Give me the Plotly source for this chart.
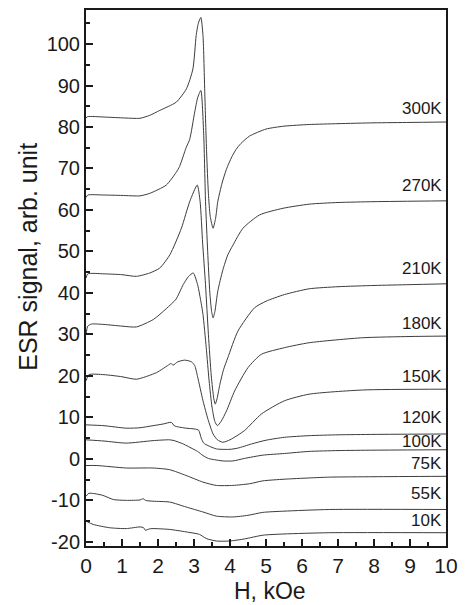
import plotly.graph_objects as go

# ---------------- data ----------------
temps = ["300K", "270K", "210K", "180K", "150K", "120K", "100K", "75K", "55K", "10K"]

H_300K = [0, 0.05, 0.5, 1.0, 1.5, 1.77, 2.05, 2.3, 2.51, 2.79, 2.97, 3.06, 3.12, 3.19, 3.25, 3.30, 3.35, 3.40, 3.45, 3.53, 3.60, 3.66, 3.78, 3.9, 4.05, 4.17, 4.3, 4.54, 5.0, 5.5, 6.2, 7, 8, 9, 10]
S_300K = [82.2, 82.5, 82.4, 82.2, 82.1, 82.8, 84.0, 85.0, 86.0, 89.2, 94.0, 102.0, 105.0, 106.4, 102.0, 88.0, 74.0, 64.0, 58.5, 55.6, 58.0, 62.0, 66.5, 69.8, 72.8, 74.6, 76.0, 77.8, 79.5, 80.2, 80.6, 80.8, 81.0, 81.1, 81.2]

H_270K = [0, 0.05, 0.5, 1.0, 1.5, 1.77, 2.23, 2.5, 2.6, 2.78, 2.88, 3.02, 3.1, 3.19, 3.27, 3.32, 3.38, 3.44, 3.49, 3.53, 3.58, 3.66, 3.8, 3.94, 4.08, 4.36, 4.82, 5.47, 6.2, 7, 8, 10]
S_270K = [63.0, 63.6, 63.6, 63.5, 63.4, 64.0, 66.0, 69.0, 70.5, 75.0, 77.0, 83.6, 87.0, 88.8, 78.0, 62.0, 50.0, 40.0, 35.5, 34.0, 35.5, 40.4, 45.5, 49.2, 51.5, 55.6, 58.8, 60.4, 61.4, 61.8, 62.0, 62.2]

H_210K = [0, 0.05, 0.5, 1.0, 1.4, 1.77, 2.05, 2.33, 2.65, 2.88, 3.09, 3.17, 3.24, 3.32, 3.40, 3.48, 3.55, 3.59, 3.64, 3.72, 3.82, 3.94, 4.22, 4.68, 5.0, 5.51, 6.2, 7, 8, 9, 10]
S_210K = [43.6, 44.6, 44.6, 44.4, 44.0, 44.8, 46.0, 49.2, 55.6, 62.0, 66.0, 62.0, 52.0, 42.0, 30.0, 20.0, 14.5, 13.2, 14.5, 18.0, 21.5, 24.4, 30.8, 36.4, 38.0, 39.6, 41.0, 41.5, 41.8, 42.0, 42.2]

H_180K = [0, 0.05, 0.15, 0.5, 1.0, 1.4, 1.87, 2.23, 2.5, 2.7, 2.85, 2.98, 3.1, 3.2, 3.25, 3.34, 3.42, 3.5, 3.58, 3.65, 3.75, 3.9, 4.13, 4.5, 4.87, 5.51, 6.2, 7.68, 9, 10]
S_180K = [30.0, 32.0, 32.5, 32.4, 32.0, 31.8, 33.6, 36.2, 38.5, 42.0, 44.0, 44.8, 42.0, 37.5, 34.8, 26.8, 18.8, 12.5, 9.0, 8.0, 9.0, 11.5, 16.4, 22.0, 25.2, 26.8, 28.0, 29.2, 29.5, 29.6]

H_150K = [0, 0.08, 0.5, 1.0, 1.4, 1.96, 2.32, 2.36, 2.42, 2.55, 2.74, 2.93, 3.02, 3.1, 3.25, 3.39, 3.53, 3.65, 3.8, 4.0, 4.4, 4.87, 5.51, 6.2, 7.68, 10]
S_150K = [18.8, 20.3, 20.3, 19.8, 19.2, 20.8, 22.8, 23.0, 22.6, 23.4, 23.8, 23.4, 22.5, 19.8, 14.0, 9.5, 6.0, 4.6, 4.0, 4.6, 6.8, 10.8, 14.0, 15.6, 16.6, 16.8]

H_120K = [0, 0.5, 1.12, 1.5, 1.86, 2.14, 2.37, 2.45, 2.51, 2.78, 3.02, 3.13, 3.2, 3.27, 3.39, 3.62, 4.0, 4.22, 4.6, 5.0, 5.51, 6.2, 7, 8, 10]
S_120K = [8.2, 8.0, 7.4, 7.5, 8.0, 8.4, 8.8, 8.0, 7.8, 7.4, 7.2, 6.9, 5.0, 3.8, 3.2, 2.4, 2.3, 2.6, 3.6, 4.5, 5.2, 5.6, 5.8, 5.9, 6.0]

H_100K = [0, 0.5, 1.12, 1.86, 2.32, 2.45, 2.7, 2.97, 3.1, 3.25, 3.4, 3.57, 3.8, 4.08, 4.4, 4.91, 5.51, 6.2, 7, 8, 10]
S_100K = [4.6, 4.3, 3.8, 4.4, 4.6, 4.4, 3.6, 2.4, 1.8, 0.8, 0.1, -0.2, -0.5, -0.5, 0.1, 0.9, 1.3, 1.8, 2.0, 2.1, 2.2]

H_75K = [0, 0.3, 1.12, 1.86, 2.32, 2.78, 3.25, 3.62, 4.08, 4.54, 4.91, 5.5, 6.2, 6.76, 8, 10]
S_75K = [-1.6, -1.6, -2.2, -2.2, -2.6, -4.0, -5.6, -6.4, -6.4, -6.0, -5.3, -4.9, -4.6, -4.4, -4.3, -4.2]

H_55K = [0, 0.08, 0.25, 0.47, 0.76, 1.12, 1.5, 1.59, 1.65, 1.86, 2.32, 2.78, 3.25, 3.62, 4.08, 4.5, 4.91, 5.5, 6.76, 10]
S_55K = [-9.0, -8.3, -8.4, -8.8, -9.8, -10.0, -9.9, -9.6, -10.0, -10.2, -10.4, -11.6, -12.8, -13.8, -14.0, -13.6, -12.9, -12.6, -12.2, -12.2]

H_10K = [0, 0.2, 0.66, 1.12, 1.5, 1.6, 1.65, 1.75, 1.86, 2.32, 2.78, 3.15, 3.34, 3.62, 3.99, 4.4, 4.91, 5.5, 6.76, 10]
S_10K = [-15.0, -15.8, -16.6, -16.8, -16.4, -16.6, -17.2, -16.9, -16.8, -17.0, -17.6, -18.2, -19.2, -19.8, -19.8, -19.3, -18.4, -18.1, -17.8, -17.8]

x_ticks = [0, 1, 2, 3, 4, 5, 6, 7, 8, 9, 10]
y_ticks = [-20, -10, 0, 10, 20, 30, 40, 50, 60, 70, 80, 90, 100]

series_H = [H_300K, H_270K, H_210K, H_180K, H_150K, H_120K, H_100K, H_75K, H_55K, H_10K]
series_S = [S_300K, S_270K, S_210K, S_180K, S_150K, S_120K, S_100K, S_75K, S_55K, S_10K]

# ---------------- styling ----------------
FONT = "Liberation Sans, Arial, Helvetica, sans-serif"
LINE_COLOR = "#3c3c3c"
TEXT_COLOR = "#1a1a1a"
label_offset = [3.3, 3.8, 3.6, 3.0, 3.0, 4.0, 1.9, 3.0, 3.8, 3.0]

fig = go.Figure()
for name, hx, sy in zip(temps, series_H, series_S):
    fig.add_trace(go.Scatter(x=hx, y=sy, mode="lines", name=name,
                             line=dict(color=LINE_COLOR, width=1, shape="spline", smoothing=0.6),
                             showlegend=False, hoverinfo="skip"))

annotations = []
for name, sy, off in zip(temps, series_S, label_offset):
    annotations.append(dict(text=name, xref="paper", yref="y", x=0.995, y=sy[-1] + off,
                            xanchor="right", yanchor="middle", showarrow=False,
                            font=dict(family=FONT, size=17, color=TEXT_COLOR)))

annotations.append(dict(text="H, kOe", xref="paper", yref="paper", x=0.512, y=-0.0845,
                        xanchor="center", yanchor="middle", showarrow=False,
                        font=dict(family=FONT, size=23, color=TEXT_COLOR)))
annotations.append(dict(text="ESR signal, arb. unit", xref="paper", yref="paper", x=-0.162, y=0.539,
                        xanchor="center", yanchor="middle", showarrow=False, textangle=-90,
                        font=dict(family=FONT, size=25, color=TEXT_COLOR)))

fig.update_layout(
    width=466, height=605,
    margin=dict(l=86, r=19, t=8, b=59, pad=0),
    paper_bgcolor="white", plot_bgcolor="white",
    annotations=annotations,
    font=dict(family=FONT, color=TEXT_COLOR),
)
fig.update_xaxes(range=[0, 10], tickvals=x_ticks, ticktext=[str(v) for v in x_ticks],
                 showgrid=False, zeroline=False,
                 showline=True, linecolor=TEXT_COLOR, linewidth=2, mirror=True,
                 ticks="inside", ticklen=7, tickwidth=1.5, tickcolor=TEXT_COLOR,
                 minor=dict(ticks="inside", ticklen=4, tickwidth=1.5, dtick=0.5, tickcolor=TEXT_COLOR, showgrid=False),
                 tickfont=dict(family=FONT, size=21, color=TEXT_COLOR))
fig.update_yaxes(range=[-21, 108.2], tickvals=y_ticks, ticktext=[str(v) for v in y_ticks],
                 showgrid=False, zeroline=False,
                 showline=True, linecolor=TEXT_COLOR, linewidth=2, mirror=True,
                 ticks="inside", ticklen=7, tickwidth=1.5, tickcolor=TEXT_COLOR,
                 minor=dict(ticks="inside", ticklen=4, tickwidth=1.5, dtick=5, tick0=0, tickcolor=TEXT_COLOR, showgrid=False),
                 tickfont=dict(family=FONT, size=20, color=TEXT_COLOR))

fig.write_html("out.html", config={"displayModeBar": False},
               post_script="document.body.style.margin='0';document.body.style.overflow='hidden';")
